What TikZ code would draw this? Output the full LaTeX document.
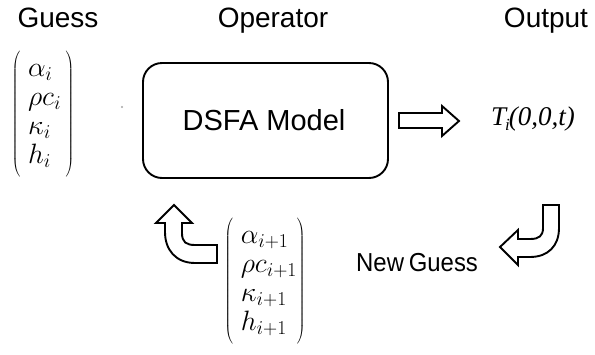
\RequirePackage{fix-cm}
\documentclass[tikz,border=0pt]{standalone}
\usepackage{fontspec}
\setmainfont{Liberation Sans}
\newfontfamily\timesf{Liberation Serif}
\newcommand{\parenstrut}{\rule[-58pt]{0pt}{130pt}}
\begin{document}
\begin{tikzpicture}[x=1pt,y=-1pt,
  heading/.style={anchor=base,inner sep=0pt,font=\fontsize{28}{30}\selectfont},
  matnode/.style={inner sep=0pt,font=\fontsize{28}{29}\selectfont},
  blockarrow/.style={draw=black,line width=1.9pt,line join=miter,fill=white}]
\useasboundingbox[fill=white] (0,0) rectangle (595,354);

\node[heading] (guess) at (58,27) {Guess};
\node[heading] (operator) at (273,27) {Operator};
\node[heading] (output) at (546,27) {Output};

\node[matnode] (m1) at (43,114) {$\left(\parenstrut\begin{array}{@{\;}l@{\,}}\alpha_i\\ \rho c_i\\ \kappa_i\\ h_i\end{array}\right)$};

\fill[gray!70] (122,107) circle (1.1pt);
\coordinate (dot) at (122,107);

\draw[line width=1.9pt,rounded corners=19pt] (143,63) rectangle (388,178);
\node[heading,font=\fontsize{29}{31}\selectfont] (model) at (264,130) {DSFA Model};

\draw[blockarrow] (399,113) -- (442,113) -- (442,106) -- (459,121) -- (442,136) -- (442,128) -- (399,128) -- cycle;

\node[anchor=base west,inner sep=0pt,font=\fontsize{27}{28}\selectfont\timesf\itshape] (out) at (491,125) {T\kern-1pt\raisebox{-5pt}{\fontsize{17}{17}\selectfont i}\kern-1pt(0,0,t)};

\draw[blockarrow] (543,205) -- (559,205) -- (559,228) .. controls (559,246) and (548,257) .. (530,257) -- (518,257) -- (518,265) -- (500,247) -- (518,230) -- (518,239) -- (530,239) .. controls (539,239) and (543,236) .. (543,228) -- cycle;

\node[anchor=base west,inner sep=0pt,font=\fontsize{26}{28}\selectfont] (newguess) at (356,271) {\scalebox{0.92}[1]{New\kern-2pt\ Guess}};

\node[matnode] (m2) at (265,281) {$\left(\parenstrut\begin{array}{@{\;}l@{}}\alpha_{i+1}\\ \rho c_{i+1}\\ \kappa_{i+1}\\ h_{i+1}\end{array}\right)$};

\draw[blockarrow] (174,205) -- (192,223) -- (182,223) -- (182,233) .. controls (182,242) and (186,245) .. (195,245) -- (217,245) -- (217,263) -- (195,263) .. controls (176,263) and (165,250) .. (165,232) -- (165,223) -- (156,223) -- cycle;
\end{tikzpicture}
\end{document}
